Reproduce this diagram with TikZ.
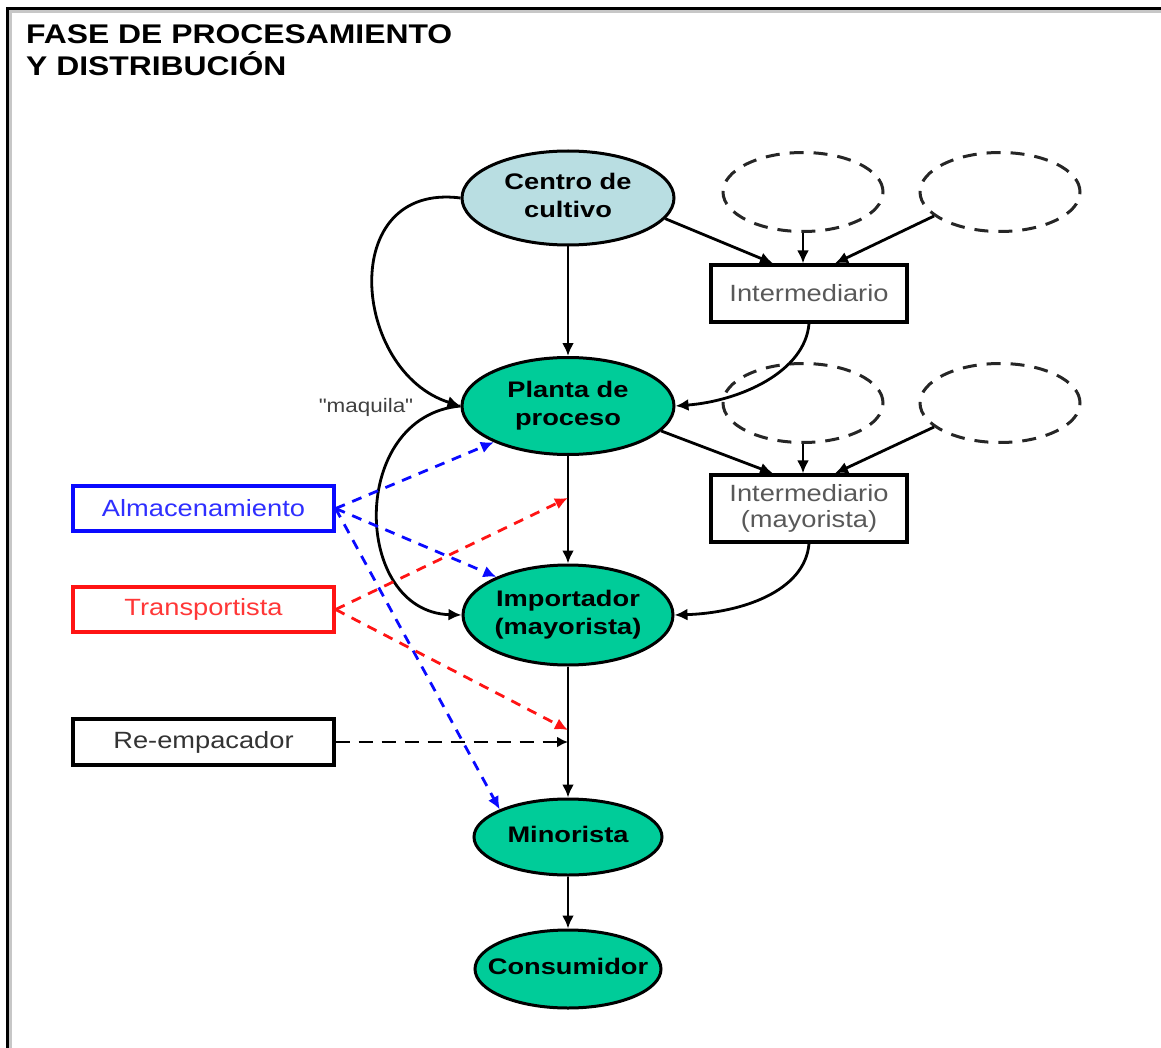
\documentclass[tikz,border=0pt]{standalone}
\usepackage{fontspec}
\setmainfont{Liberation Sans}
\newfontfamily\headfont[FakeStretch=1.18]{Liberation Sans}
\newfontfamily\stagefont[FakeStretch=1.21]{Liberation Sans}
\newfontfamily\boxfont[FakeStretch=1.16]{Liberation Sans}
\newfontfamily\notefont[FakeStretch=1.15,Ligatures=TeXOff]{Liberation Sans}
\usetikzlibrary{shapes.geometric,arrows.meta,calc}
\definecolor{stagegreen}{RGB}{0,204,153}
\definecolor{cropblue}{RGB}{185,222,226}
\definecolor{storeblue}{RGB}{10,10,255}
\definecolor{haulred}{RGB}{255,20,20}
% two-line or one-line label that does not widen the ellipse around it
\newcommand{\stagetext}[1]{\makebox[0pt]{\begin{tabular}{@{}c@{}}#1\end{tabular}}}
\begin{document}
\begin{tikzpicture}[x=1pt,y=-1pt,
  stage/.style={ellipse, draw, line width=3pt, fill=stagegreen, inner sep=0pt,
    font=\stagefont\bfseries\fontsize{22.5}{28}\selectfont},
  source/.style={ellipse, draw=black!85, line width=3pt, dash pattern=on 14pt off 10pt,
    minimum width=160pt, minimum height=79pt, inner sep=0pt},
  agent/.style={rectangle, draw, line width=3.2pt, inner sep=0pt, fill=white,
    font=\boxfont\fontsize{23.5}{26}\selectfont, align=center},
  flow/.style={line width=2.8pt, -{Latex[length=13pt,width=12pt]}},
  storage/.style={storeblue, line width=2.8pt, dash pattern=on 10pt off 8pt, -{Latex[length=13pt,width=12pt]}},
  haul/.style={haulred, line width=2.8pt, dash pattern=on 10pt off 8pt, -{Latex[length=13pt,width=12pt]}},
  repack/.style={black, line width=2.8pt, dash pattern=on 14pt off 9pt, -{Latex[length=11pt,width=11pt]}},
]
\useasboundingbox (0,0) rectangle (1161,1048);

% open frame on the top and left
\draw[black!22, line width=3pt] (10.5,1048) |- (1161,12);
\draw[line width=3pt] (7.5,1048) |- (1161,9);

% heading
\node[anchor=base west, inner sep=0pt, font=\headfont\bfseries\fontsize{27}{31}\selectfont] (title1) at (26,44) {FASE DE PROCESAMIENTO};
\node[anchor=base west, inner sep=0pt, font=\headfont\bfseries\fontsize{27}{31}\selectfont] (title2) at (26,76) {Y DISTRIBUCIÓN};

% main chain
\node[stage, fill=cropblue, minimum width=212pt, minimum height=94pt] (centro) at (568,198) {\raisebox{3pt}{\stagetext{Centro de\\cultivo}}};
\node[stage, minimum width=212pt, minimum height=97pt] (planta) at (568,406) {\stagetext{Planta de\\proceso}};
\node[stage, minimum width=210pt, minimum height=100pt] (importador) at (568,615) {\stagetext{Importador\\(mayorista)}};
\node[stage, minimum width=188pt, minimum height=76pt] (minorista) at (568,837) {\stagetext{Minorista}};
\node[stage, minimum width=186pt, minimum height=78pt] (consumidor) at (568,969) {\stagetext{Consumidor}};

% unnamed suppliers
\node[source] (d1) at (803,192) {};
\node[source] (d2) at (1000,192) {};
\node[source] (d3) at (803,403) {};
\node[source] (d4) at (1000,403) {};

% intermediaries
\node[agent, text=black!65, minimum width=196pt, minimum height=57pt] (int1) at (809,293.5) {Intermediario};
\node[agent, text=black!65, minimum width=196pt, minimum height=67pt] (int2) at (809,508.5) {Intermediario\\(mayorista)};

% service providers
\node[agent, draw=storeblue, text=storeblue!85, minimum width=261pt, minimum height=45pt] (alm) at (203.5,508.5) {Almacenamiento};
\node[agent, draw=haulred, text=haulred!85, minimum width=261pt, minimum height=45pt] (trans) at (203.5,609.5) {Transportista};
\node[agent, text=black!80, minimum width=261pt, minimum height=46pt] (re) at (203.5,742) {Re-empacador};

\node[font=\notefont\fontsize{19.5}{22}\selectfont, text=black!75, inner sep=0pt] (maquila) at (366,407) {"maquila"};

% main flow
\draw[flow] (centro) -- (planta);
\draw[flow] (planta) -- (importador);
\draw[flow] (importador) -- (minorista);
\draw[flow] (minorista) -- (consumidor);

% bypass curves
\draw[flow] (centro.west) .. controls (336,182) and (352,372) .. (planta.west);
\draw[flow] (planta.west) .. controls (348,416) and (352,612) .. (importador.west);

% intermediary routes
\draw[flow] (centro.-12) -- ($(int1.north)+(-36,0)$);
\draw[flow] (d1.south) -- (d1.south |- int1.north);
\draw[flow] (d2.200) -- ($(int1.north)+(26,0)$);
\draw[flow] (int1.south) .. controls (805,372) and (740,401) .. (planta.east);

\draw[flow] (planta.-15) -- ($(int2.north)+(-36,0)$);
\draw[flow] (d3.south) -- (d3.south |- int2.north);
\draw[flow] (d4.200) -- ($(int2.north)+(26,0)$);
\draw[flow] (int2.south) .. controls (805,592) and (740,613) .. (importador.east);

% points on the chain reached by services
\coordinate (pi) at ($(planta.south)!0.39!(importador.north)$);
\coordinate (im) at ($(importador.south)!0.485!(minorista.north)$);
\coordinate (rp) at ($(importador.south)!0.575!(minorista.north)$);

% storage
\draw[storage] (alm.east) -- (planta.206);
\draw[storage] (alm.east) -- (importador.152);
\draw[storage] (alm.east) -- (minorista.158);

% transport
\draw[haul] (trans.east) -- (pi);
\draw[haul] (trans.east) -- (im);

% repacking
\draw[repack] (re.east) -- (re.east -| rp);
\end{tikzpicture}
\end{document}
